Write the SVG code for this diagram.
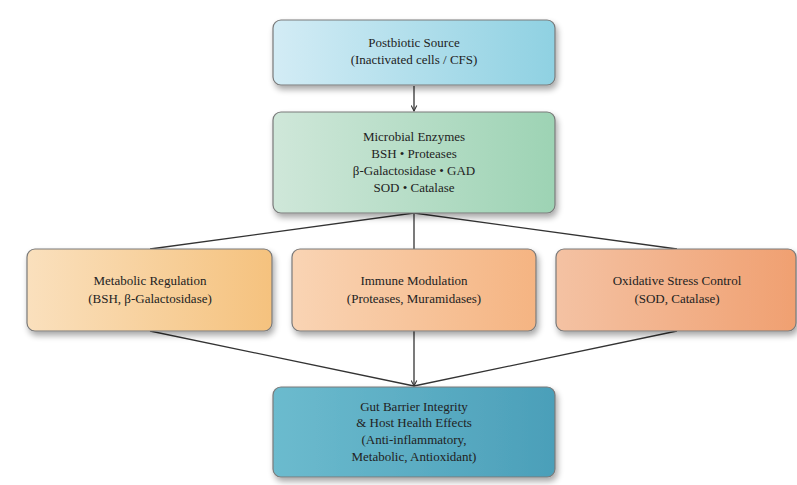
<svg xmlns="http://www.w3.org/2000/svg" width="797" height="485" viewBox="0 0 797 485">
<defs>
<style>
.box{stroke:#7a7a7a;stroke-width:1.2}
.t{font-family:"Liberation Serif","Times New Roman",serif;font-size:13px;fill:#222;text-anchor:middle}
.c{stroke:#333;stroke-width:1.3;fill:none}
</style>
<filter id="sh" x="-10%" y="-15%" width="125%" height="140%">
<feGaussianBlur in="SourceAlpha" stdDeviation="3"/>
<feOffset dx="2" dy="4"/>
<feComponentTransfer><feFuncA type="linear" slope="0.35"/></feComponentTransfer>
<feMerge><feMergeNode/><feMergeNode in="SourceGraphic"/></feMerge>
</filter>
<linearGradient id="gBlue" x1="0" y1="0" x2="1" y2="0"><stop offset="0" stop-color="#d3ecf5"/><stop offset="1" stop-color="#8fd1e2"/></linearGradient>
<linearGradient id="gGreen" x1="0" y1="0" x2="1" y2="0"><stop offset="0" stop-color="#cfe7d9"/><stop offset="1" stop-color="#9dd3b4"/></linearGradient>
<linearGradient id="gY" x1="0" y1="0" x2="1" y2="0"><stop offset="0" stop-color="#fae0bd"/><stop offset="1" stop-color="#f5c27e"/></linearGradient>
<linearGradient id="gO" x1="0" y1="0" x2="1" y2="0"><stop offset="0" stop-color="#f9d4b4"/><stop offset="1" stop-color="#f5b482"/></linearGradient>
<linearGradient id="gR" x1="0" y1="0" x2="1" y2="0"><stop offset="0" stop-color="#f4c2a3"/><stop offset="1" stop-color="#f0a071"/></linearGradient>
<linearGradient id="gB2" x1="0" y1="0" x2="1" y2="0"><stop offset="0" stop-color="#6cbbce"/><stop offset="1" stop-color="#4b9fb9"/></linearGradient>
<marker id="arr" viewBox="0 0 10 10" refX="9" refY="5" markerWidth="7" markerHeight="7" orient="auto" markerUnits="userSpaceOnUse">
<path d="M1,1 L9,5 L1,9" fill="none" stroke="#333" stroke-width="1.5"/>
</marker>
</defs>
<rect width="797" height="485" fill="#ffffff"/>
<g id="connectors">
<line class="c" x1="414" y1="86" x2="414" y2="111" marker-end="url(#arr)"/>
<line class="c" x1="414" y1="213" x2="150" y2="249"/>
<line class="c" x1="414" y1="213" x2="414" y2="249"/>
<line class="c" x1="414" y1="213" x2="677" y2="249"/>
<line class="c" x1="150" y1="331" x2="414" y2="386"/>
<line class="c" x1="414" y1="331" x2="414" y2="386" marker-end="url(#arr)"/>
<line class="c" x1="677" y1="331" x2="414" y2="386"/>
</g>
<g id="source">
<rect class="box" x="273" y="20" width="282" height="65" rx="8" fill="url(#gBlue)" filter="url(#sh)"/>
<text class="t" x="414" y="47">Postbiotic Source</text>
<text class="t" x="414" y="64">(Inactivated cells / CFS)</text>
</g>
<g id="enzymes">
<rect class="box" x="273" y="112" width="282" height="101" rx="8" fill="url(#gGreen)" filter="url(#sh)"/>
<text class="t" x="414" y="141">Microbial Enzymes</text>
<text class="t" x="414" y="158">BSH • Proteases</text>
<text class="t" x="414" y="175">β-Galactosidase • GAD</text>
<text class="t" x="414" y="192">SOD • Catalase</text>
</g>
<g id="metabolic">
<rect class="box" x="27" y="249" width="245" height="82" rx="8" fill="url(#gY)" filter="url(#sh)"/>
<text class="t" x="150" y="285">Metabolic Regulation</text>
<text class="t" x="150" y="303">(BSH, β-Galactosidase)</text>
</g>
<g id="immune">
<rect class="box" x="292" y="249" width="244" height="82" rx="8" fill="url(#gO)" filter="url(#sh)"/>
<text class="t" x="414" y="285">Immune Modulation</text>
<text class="t" x="414" y="303">(Proteases, Muramidases)</text>
</g>
<g id="oxidative">
<rect class="box" x="556" y="249" width="240" height="82" rx="8" fill="url(#gR)" filter="url(#sh)"/>
<text class="t" x="677" y="285">Oxidative Stress Control</text>
<text class="t" x="677" y="303">(SOD, Catalase)</text>
</g>
<g id="gut">
<rect class="box" x="273" y="387" width="282" height="90" rx="8" fill="url(#gB2)" filter="url(#sh)"/>
<text class="t" x="414" y="411">Gut Barrier Integrity</text>
<text class="t" x="414" y="427">&amp; Host Health Effects</text>
<text class="t" x="414" y="444">(Anti-inflammatory,</text>
<text class="t" x="414" y="461">Metabolic, Antioxidant)</text>
</g>
</svg>
